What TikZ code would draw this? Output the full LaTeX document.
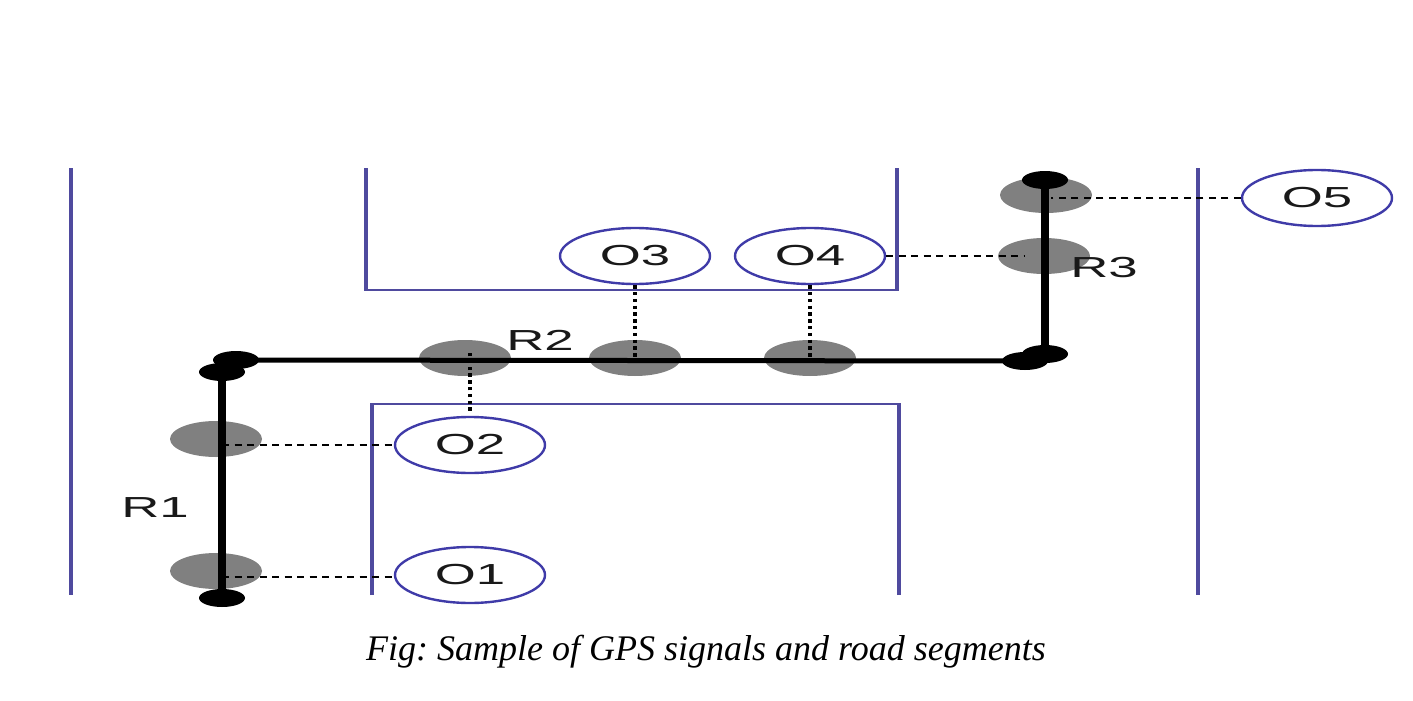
\documentclass[tikz,border=0pt]{standalone}
\usepackage{fontspec}
\setmainfont{Liberation Sans}
\newfontfamily\capfont{Liberation Serif}
\usetikzlibrary{shapes.geometric}
\definecolor{roadblue}{HTML}{4F4A9E}
\definecolor{obsblue}{HTML}{3F3BA8}
\definecolor{gpsgray}{HTML}{808080}
\tikzset{
  road/.style={draw=roadblue,line width=3.6pt},
  roadthin/.style={draw=roadblue,line width=2.6pt,line join=miter},
  obs/.style={ellipse,draw=obsblue,line width=2.4pt,fill=white,minimum width=150pt,minimum height=56pt,inner sep=0pt},
  gps/.style={ellipse,fill=gpsgray,minimum width=92pt,minimum height=36pt,inner sep=0pt},
  knob/.style={ellipse,fill=black,minimum width=46pt,minimum height=18pt,inner sep=0pt},
  seg/.style={draw=black},
  dashlink/.style={draw=black,line width=1.5pt,dash pattern=on 7pt off 5.5pt},
  dotlink/.style={draw=black,line width=3.4pt,dash pattern=on 3.4pt off 3.4pt},
  lab/.style={font=\fontsize{29}{29}\selectfont,xscale=1.82,text=black!90,inner sep=0pt},
}
\begin{document}
\frenchspacing
\begin{tikzpicture}[x=1pt,y=-1pt]
\useasboundingbox (0,0) rectangle (1413,701);
% walls
\draw[road] (71,168) -- (71,595);
\draw[road] (1198,168) -- (1198,595);
\draw[roadthin] (366,290) -- (897,290);
\draw[roadthin] (372,404) -- (899,404);
\draw[road] (366,168) -- (366,291.3);
\draw[road] (897,168) -- (897,291.3);
\draw[road] (372,595) -- (372,402.7);
\draw[road] (899,595) -- (899,402.7);
% GPS points
\node[gps] (g1) at (216,571) {};
\node[gps] (g2) at (216,439) {};
\node[gps] (g2b) at (465,358) {};
\node[gps] (g3) at (635,358) {};
\node[gps] (g4) at (810,358) {};
\node[gps] (g5) at (1044,256) {};
\node[gps] (g6) at (1046,195) {};
% road ends
\node[knob] (r1a) at (222,598) {};
\node[knob] (r1b) at (222,372) {};
\node[knob] (r2a) at (236,360) {};
\node[knob] (r2b) at (1025,361) {};
\node[knob] (r3a) at (1045,354) {};
\node[knob] (r3b) at (1045,180) {};
% segments
\draw[seg,line width=7.5pt] (r1a.center) -- (r1b.center);
\draw[seg,line width=5pt] (r2a.center) -- (r2b.center);
\draw[seg,line width=8pt] (r3a.center) -- (r3b.center);
% observations
\node[obs] (o1) at (470,575) {};
\node[obs] (o2) at (470,445) {};
\node[obs] (o3) at (635,256) {};
\node[obs] (o4) at (810,256) {};
\node[obs] (o5) at (1317,198) {};
\node[lab] at (o1) {O1};
\node[lab] at (o2) {O2};
\node[lab] at (o3) {O3};
\node[lab] at (o4) {O4};
\node[lab] at (o5) {O5};
% links
\draw[dashlink] ([yshift=-2pt]o1.west -| r1a.center) -- ([yshift=-2pt]o1.west);
\draw[dashlink] (o2.west -| r1a.center) -- (o2.west);
\draw[dashlink] (o4.east) -- ([xshift=-20pt]g5.center |- o4.east);
\draw[dashlink] (o5.west) -- ([xshift=5pt]g6.center |- o5.west);
\draw[dotlink] (o2.north) ++(0,-5) -- ([yshift=6pt]o2.north |- g2b.center);
\draw[dotlink] (o3.south) -- (o3.south |- g3.center);
\draw[dotlink] (o4.south) -- (o4.south |- g4.center);
% labels
\node[lab] (l1) at (155,508) {R1};
\node[lab] (l2) at (540,340) {R2};
\node[lab] (l3) at (1104,268) {R3};
\node[font=\capfont\itshape\fontsize{36}{38}\selectfont,inner sep=0pt] (cap) at (706,652) {Fig: Sample of GPS signals and road segments};
\end{tikzpicture}
\end{document}
